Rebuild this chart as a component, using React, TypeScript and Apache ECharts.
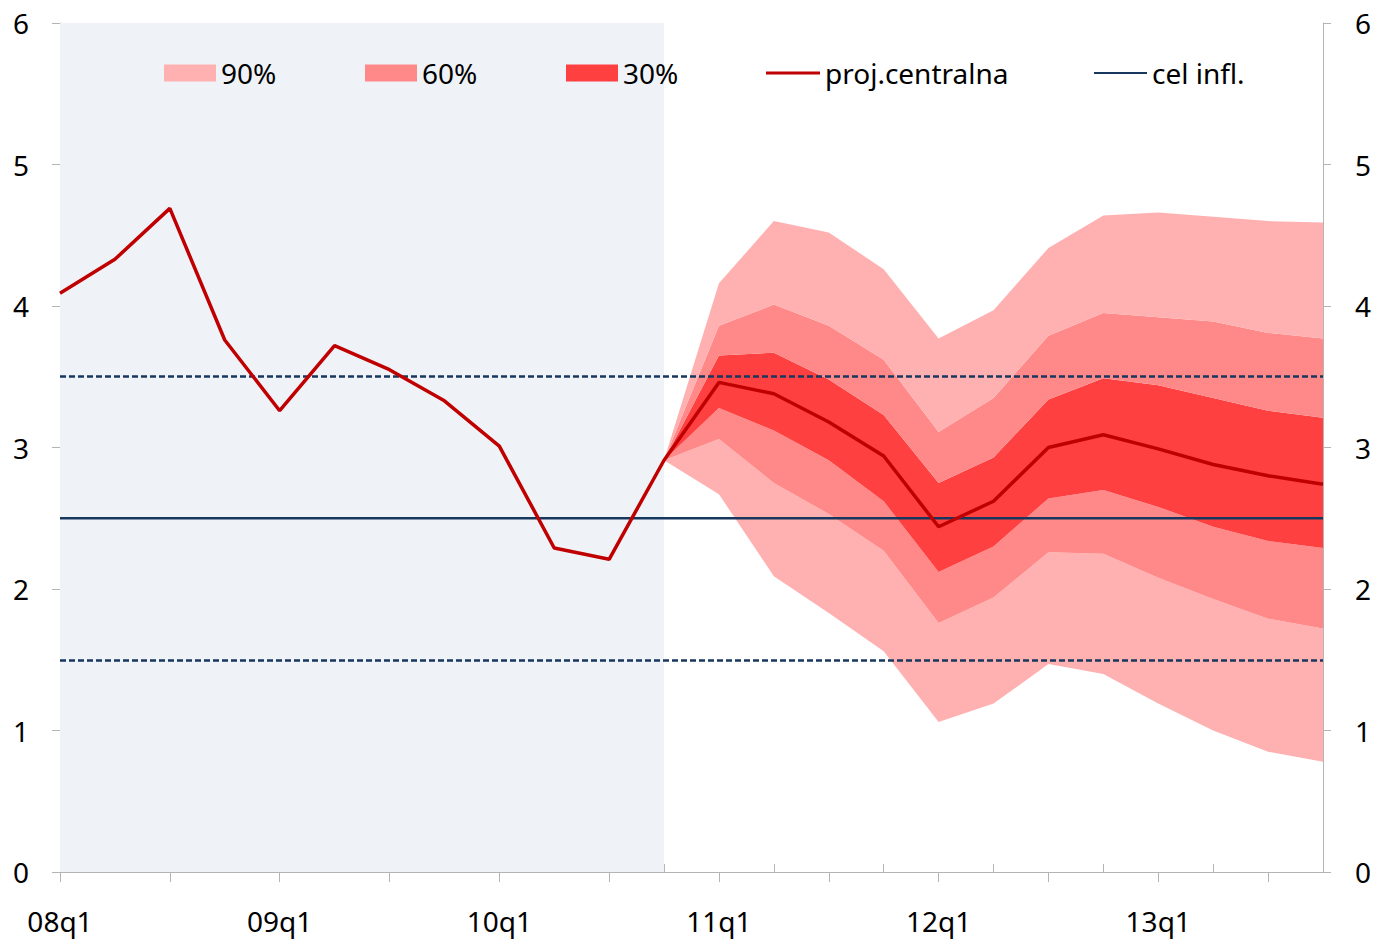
import React, { useEffect, useRef } from "react";
import * as echarts from "echarts";

const categories = [
  "08q1", "08q2", "08q3", "08q4", "09q1", "09q2", "09q3", "09q4",
  "10q1", "10q2", "10q3", "10q4", "11q1", "11q2", "11q3", "11q4",
  "12q1", "12q2", "12q3", "12q4", "13q1", "13q2", "13q3", "13q4",
];

const central = [
  4.09, 4.33, 4.69, 3.76, 3.26, 3.72, 3.55, 3.33, 3.01, 2.29, 2.21, 2.91,
  3.46, 3.38, 3.18, 2.94, 2.44, 2.62, 3.0, 3.09, 2.99, 2.88, 2.8, 2.74,
];

const N = null;
const upper90 = [N, N, N, N, N, N, N, N, N, N, N, 2.91, 4.16, 4.6, 4.52, 4.26, 3.77, 3.97, 4.41, 4.64, 4.66, 4.63, 4.6, 4.59];
const upper60 = [N, N, N, N, N, N, N, N, N, N, N, 2.91, 3.86, 4.01, 3.86, 3.62, 3.11, 3.35, 3.79, 3.95, 3.92, 3.89, 3.81, 3.77];
const upper30 = [N, N, N, N, N, N, N, N, N, N, N, 2.91, 3.65, 3.67, 3.48, 3.23, 2.75, 2.93, 3.34, 3.49, 3.44, 3.35, 3.26, 3.21];
const lower30 = [N, N, N, N, N, N, N, N, N, N, N, 2.91, 3.28, 3.12, 2.91, 2.62, 2.12, 2.3, 2.64, 2.7, 2.58, 2.44, 2.34, 2.29];
const lower60 = [N, N, N, N, N, N, N, N, N, N, N, 2.91, 3.06, 2.75, 2.53, 2.27, 1.76, 1.94, 2.26, 2.25, 2.08, 1.93, 1.79, 1.72];
const lower90 = [N, N, N, N, N, N, N, N, N, N, N, 2.91, 2.67, 2.09, 1.83, 1.56, 1.06, 1.19, 1.47, 1.4, 1.19, 1.0, 0.85, 0.78];

const target = [2.5, 2.5, 2.5, 2.5, 2.5, 2.5, 2.5, 2.5, 2.5, 2.5, 2.5, 2.5, 2.5, 2.5, 2.5, 2.5, 2.5, 2.5, 2.5, 2.5, 2.5, 2.5, 2.5, 2.5];
const toleranceBand = [3.5, 1.5];
const historyEnd = "10q4";

const yTicks = { min: 0, max: 6, interval: 1 };

const C90 = "#ffb0b0";
const C60 = "#ff8888";
const C30 = "#ff4040";
const RED = "#c00000";
const NAVY = "#17375e";
const AXIS = "#b4b4b4";
const FONT = "Noto Sans";
const FS = 28;

function diff(a: (number | null)[], b: (number | null)[]) {
  return a.map((v, i) => (v == null || b[i] == null ? null : +((v as number) - (b[i] as number)).toFixed(4)));
}

function band(name: string | undefined, data: (number | null)[], color: string, filled: boolean) {
  return {
    type: "line",
    name,
    stack: "fan",
    data,
    color,
    symbol: "none",
    showSymbol: false,
    lineStyle: { width: 0, opacity: 0 },
    areaStyle: filled ? { color, opacity: 1 } : undefined,
    z: 2,
    silent: true,
  };
}

export default function App() {
  const ref = useRef<HTMLDivElement>(null);

  useEffect(() => {
    if (!ref.current) return;
    const chart = echarts.init(ref.current, undefined, { renderer: "svg" });

    const legendBase = {
      orient: "horizontal",
      padding: 0,
      icon: "rect",
      itemGap: 0,
      textStyle: { color: "#000", fontFamily: FONT, fontSize: FS },
      selectedMode: false,
    };
    const LT = 59;

    chart.setOption({
      animation: false,
      backgroundColor: "#fff",
      textStyle: { fontFamily: FONT },
      grid: { left: 60, right: 49, top: 23, bottom: 67, containLabel: false },
      legend: [
        { ...legendBase, data: ["90%"], left: 164, top: LT, itemWidth: 52, itemHeight: 17 },
        { ...legendBase, data: ["60%"], left: 365, top: LT, itemWidth: 52, itemHeight: 17 },
        { ...legendBase, data: ["30%"], left: 566, top: LT, itemWidth: 52, itemHeight: 17 },
        { ...legendBase, data: ["proj.centralna"], left: 766, top: LT, itemWidth: 54, itemHeight: 3 },
        { ...legendBase, data: ["cel infl."], left: 1094, top: LT, itemWidth: 53, itemHeight: 2 },
      ],
      xAxis: [
        {
          type: "category",
          data: categories,
          boundaryGap: false,
          position: "bottom",
          axisLine: { show: true, lineStyle: { color: AXIS, width: 1 } },
          axisTick: {
            show: true,
            length: 10,
            interval: (i: number) => i % 2 === 0,
            lineStyle: { color: AXIS },
          },
          axisLabel: {
            interval: (i: number) => i % 4 === 0,
            color: "#000",
            fontFamily: FONT,
            fontSize: FS,
            margin: 35,
          },
          splitLine: { show: false },
        },
        {
          type: "category",
          data: categories,
          boundaryGap: false,
          position: "bottom",
          axisLine: { show: false },
          axisTick: {
            show: true,
            inside: true,
            length: 8,
            interval: (i: number) => i % 2 === 1,
            lineStyle: { color: AXIS },
          },
          axisLabel: { show: false },
          splitLine: { show: false },
        },
      ],
      yAxis: [
        {
          type: "value",
          ...yTicks,
          position: "left",
          axisLine: { show: true, lineStyle: { color: AXIS } },
          axisTick: { show: true, length: 8, lineStyle: { color: AXIS } },
          axisLabel: { color: "#000", fontFamily: FONT, fontSize: FS, margin: 31 },
          splitLine: { show: false },
        },
        {
          type: "value",
          ...yTicks,
          position: "right",
          axisLine: { show: true, lineStyle: { color: AXIS } },
          axisTick: { show: true, length: 8, lineStyle: { color: AXIS } },
          axisLabel: { color: "#000", fontFamily: FONT, fontSize: FS, margin: 32 },
          splitLine: { show: false },
        },
      ],
      series: [
        {
          ...band(undefined, lower90, "transparent", false),
          markArea: {
            silent: true,
            itemStyle: { color: "#eff3f8" },
            data: [[{ xAxis: categories[0] }, { xAxis: historyEnd }]],
          },
          z: 1,
        },
        band("90%", diff(lower60, lower90), C90, true),
        band("60%", diff(lower30, lower60), C60, true),
        band("30%", diff(upper30, lower30), C30, true),
        band("60%", diff(upper60, upper30), C60, true),
        band("90%", diff(upper90, upper60), C90, true),
        {
          type: "line",
          name: "cel infl.",
          data: target,
          color: NAVY,
          symbol: "none",
          lineStyle: { color: NAVY, width: 2.5 },
          z: 4,
          silent: true,
          markLine: {
            silent: true,
            symbol: "none",
            label: { show: false },
            lineStyle: { color: NAVY, width: 2.5, type: [6, 3] },
            data: toleranceBand.map((v) => ({ yAxis: v })),
          },
        },
        {
          type: "line",
          name: "proj.centralna",
          data: central,
          color: RED,
          symbol: "none",
          lineStyle: { color: RED, width: 3.5 },
          z: 5,
          silent: true,
        },
      ],
    });

    return () => chart.dispose();
  }, []);

  return (
    <div
      ref={ref}
      style={{ position: "fixed", left: 0, top: 0, width: 1374, height: 939 }}
    />
  );
}
